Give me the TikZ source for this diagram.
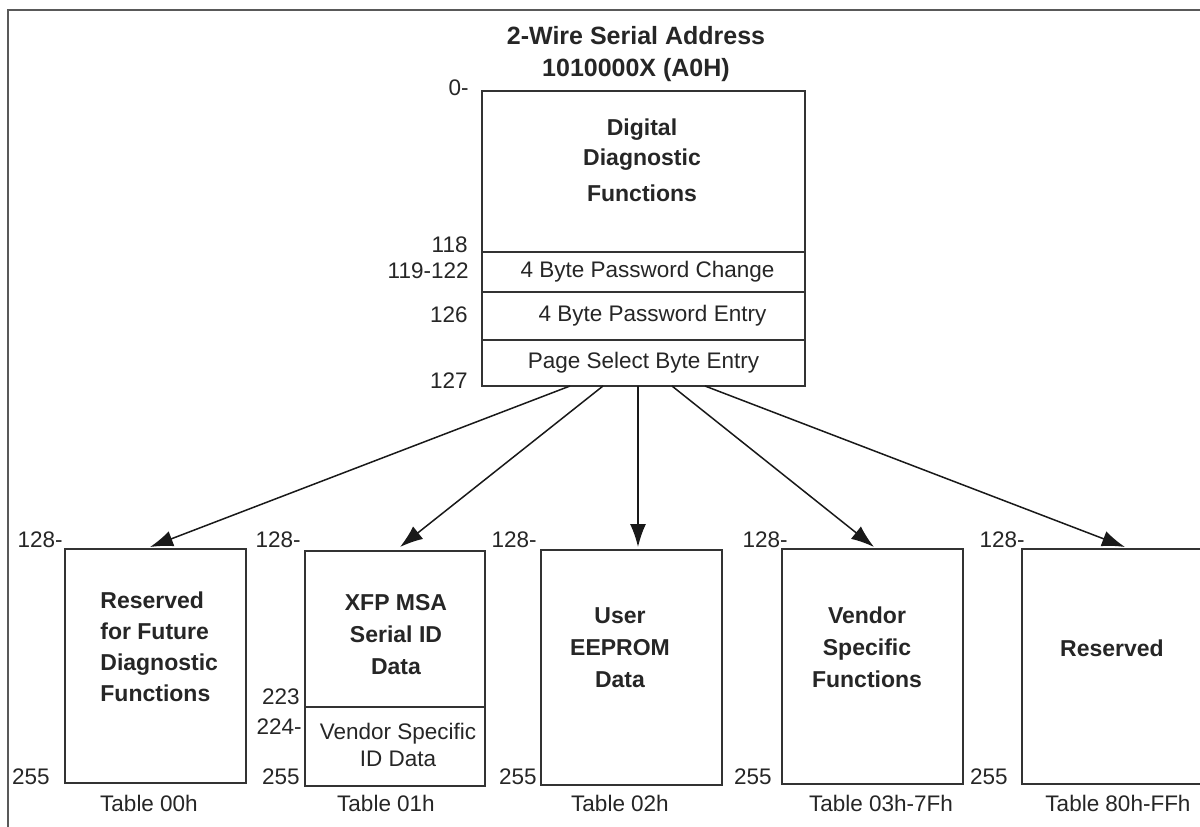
\documentclass[tikz,border=0pt]{standalone}
\usepackage{fontspec}
\setmainfont{Liberation Sans}
\usetikzlibrary{arrows.meta}
\begin{document}
\begin{tikzpicture}[x=0.5pt,y=-0.5pt,
  box/.style 2 args={draw=black!80, line width=1pt, minimum width=#1, minimum height=#2, inner sep=0pt, text=black!85,
    font=\fontsize{11.25}{13.5}\selectfont},
  btext/.style={inner sep=0pt, align=center, text=black!85, font=\fontsize{11.5}{16}\selectfont\bfseries},
  num/.style={inner sep=0pt, anchor=east, text=black!85, font=\fontsize{11.25}{13.5}\selectfont},
  tlabel/.style={inner sep=0pt, text=black!85, font=\fontsize{11.25}{13.5}\selectfont},
  arr/.style={line width=0.75pt, black!90, -{Latex[length=11.5pt,width=8pt]}},
  frame/.style={line width=1pt, black!65}]
\clip (0,0) rectangle (1200,826);
\fill[white] (0,0) rectangle (1200,826);
% outer frame
\draw[frame] (8,830) -- (8,10) -- (1205,10);
% title
\node[btext, font=\fontsize{12.5}{16}\selectfont\bfseries] (title) at (636,54) {2-Wire Serial Address\\1010000X (A0H)};
% main memory map
\node[box={161.5pt}{80.5pt}] (ddf) at (643.5,171.5) {};
\node[btext] (ddft) at (642,160) {Digital\\[-1pt]Diagnostic\\[2pt]Functions};
\node[box={161.5pt}{20pt}] (pwc) at (643.5,272) {\hspace*{4pt}4 Byte Password Change};
\node[box={161.5pt}{24pt}] (pwe) at (643.5,316) {\hspace*{9pt}4 Byte Password Entry};
\node[box={161.5pt}{23pt}] (psb) at (643.5,363) {\raisebox{2pt}{Page Select Byte Entry}};
\node[num] (n0) at (469,88) {0-};
\node[num] (n118) at (468,245) {118};
\node[num] (n119) at (469,271) {119-122};
\node[num] (n126) at (468,315) {126};
\node[num] (n127) at (468,381) {127};
% lower tables
\node[box={90.5pt}{117pt}] (b1) at (155.5,666) {};
\node[box={90pt}{78pt}] (b2a) at (395,629) {};
\node[box={90pt}{39.5pt}] (b2b) at (395,746.5) {};
\node[box={90.5pt}{117.5pt}] (b3) at (631.5,667.5) {};
\node[box={90.5pt}{117.5pt}] (b4) at (872.5,666.5) {};
\node[box={90.5pt}{117.5pt}] (b5) at (1112.5,666.5) {};
% table texts
\node[btext, align=left, anchor=west, font=\fontsize{11.5}{15.5}\selectfont\bfseries] (b1t) at (100,646.5) {Reserved\\for Future\\Diagnostic\\Functions};
\node[btext] (b2at) at (396,635) {XFP MSA\\Serial ID\\Data};
\node[tlabel, align=center] (b2bt) at (398,744.5) {Vendor Specific\\ID Data};
\node[btext] (b3t) at (620,648) {User\\EEPROM\\Data};
\node[btext] (b4t) at (867,647) {Vendor\\Specific\\Functions};
\node[btext] (b5t) at (1112,648) {Reserved};
% range numbers
\node[num] at (63,540) {128-};
\node[num] at (50,777) {255};
\node[num] at (301,540) {128-};
\node[num] at (300,697) {223};
\node[num] at (302,727) {224-};
\node[num] at (300,777) {255};
\node[num] at (537,540) {128-};
\node[num] at (537,777) {255};
\node[num] at (788,540) {128-};
\node[num] at (772,777) {255};
\node[num] at (1025,540) {128-};
\node[num] at (1008,777) {255};
% table names
\node[tlabel] (t0) at (149,803) {Table 00h};
\node[tlabel] (t1) at (386,803) {Table 01h};
\node[tlabel] (t2) at (620,803) {Table 02h};
\node[tlabel] (t3) at (881,803) {Table 03h-7Fh};
\node[tlabel] (t4) at (1118,803) {Table 80h-FFh};
% arrows
\coordinate (s1) at (570,386);
\coordinate (s2) at (603,386);
\coordinate (s3) at (638,386);
\coordinate (s4) at (672,386);
\coordinate (s5) at (705,386);
\coordinate (e1) at (150,547);
\coordinate (e2) at (400,547);
\coordinate (e3) at (638,547);
\coordinate (e4) at (874,547);
\coordinate (e5) at (1125,547);
\draw[arr] (s1) -- (e1);
\draw[arr] (s2) -- (e2);
\draw[arr] (s3) -- (e3);
\draw[arr] (s4) -- (e4);
\draw[arr] (s5) -- (e5);
\end{tikzpicture}
\end{document}
